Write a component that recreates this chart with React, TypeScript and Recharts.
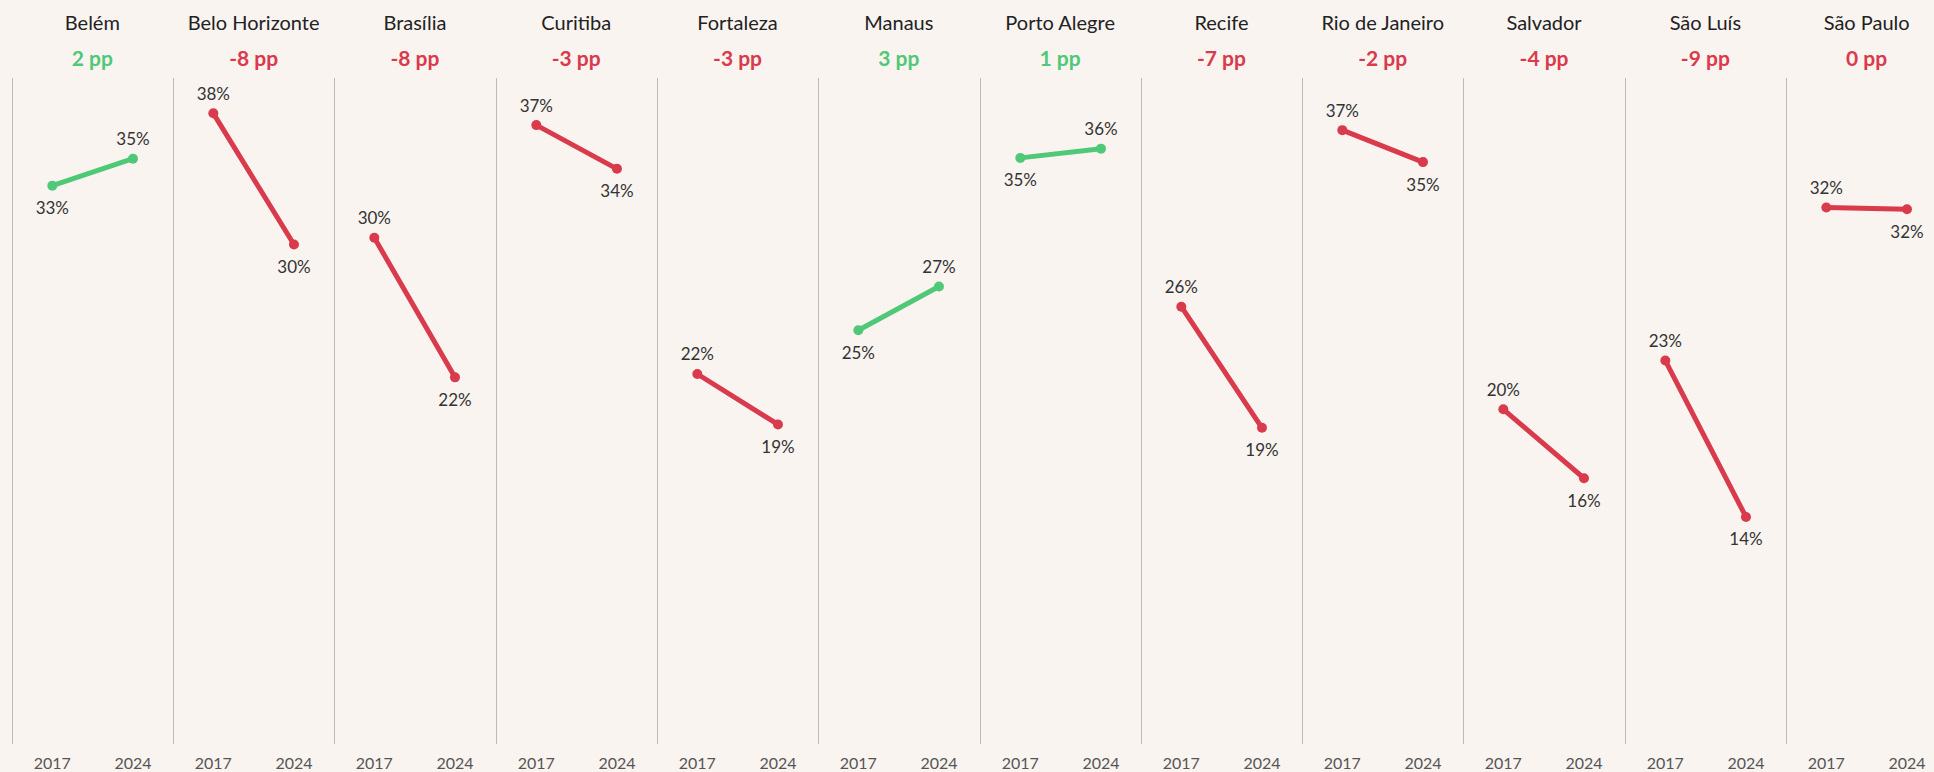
// Slope panels — share per city, 2017 vs 2024, with change in pp
import { LineChart, Line, XAxis, YAxis, LabelList } from "recharts";

const CITIES = [
  "Belém", "Belo Horizonte", "Brasília", "Curitiba", "Fortaleza", "Manaus",
  "Porto Alegre", "Recife", "Rio de Janeiro", "Salvador", "São Luís", "São Paulo",
];
const YEARS = [2017, 2024];
const SHARE_2017 = [33.4, 37.7, 30.3, 37.0, 22.2, 24.8, 35.05, 26.2, 36.7, 20.1, 23.0, 32.1];
const SHARE_2024 = [35.0, 29.9, 22.0, 34.4, 19.2, 27.4, 35.6, 19.0, 34.8, 16.0, 13.7, 32.0];

const GREEN = "#4fc878";
const RED = "#d93a4c";
const BG = "#f9f4f0";
const PANEL_W = 161.3;
const X0 = 11.7;
const PLOT_TOP = 78;
const PLOT_H = 666;

function YearTick({ x, y, payload }: any) {
  return (
    <text x={x} y={y + 19} textAnchor="middle" dominantBaseline="central" fontSize={16} fill="#555">
      {payload.value}
    </text>
  );
}

function Panel({ i }: { i: number }) {
  const a = SHARE_2017[i];
  const b = SHARE_2024[i];
  const data = YEARS.map((year, j) => ({ year, value: j === 0 ? a : b }));
  const diff = b - a;
  const delta = Math.round(diff);
  const color = diff >= 0 ? GREEN : RED;
  const top = Math.max(a, b);

  const renderLabel = (p: any) => {
    const above = p.value === top;
    return (
      <text x={p.x} y={above ? p.y - 20 : p.y + 22} textAnchor="middle" dominantBaseline="central" fontSize={17} fill="#333">
        {Math.round(p.value)}%
      </text>
    );
  };

  return (
    <div style={{ position: "absolute", left: X0 + i * PANEL_W, top: 0, width: PANEL_W, height: 772 }}>
      <div style={{ position: "absolute", top: 9, width: "100%", textAlign: "center", fontSize: 20, lineHeight: "26px", color: "#222" }}>
        {CITIES[i]}
      </div>
      <div style={{ position: "absolute", top: 45, width: "100%", textAlign: "center", fontSize: 21, fontWeight: 700, lineHeight: "26px", color }}>
        {`${delta === 0 ? 0 : delta} pp`}
      </div>
      <div style={{ position: "absolute", left: 0, top: PLOT_TOP, height: PLOT_H, borderLeft: "1.5px solid #bfb9b5" }} />
      <div style={{ position: "absolute", left: 0, top: PLOT_TOP }}>
        <LineChart width={PANEL_W} height={772 - PLOT_TOP} data={data} margin={{ top: 0, right: 0, bottom: 0, left: 0 }}>
          <XAxis dataKey="year" type="number" domain={[2013.5, 2027.5]} ticks={YEARS}
            axisLine={false} tickLine={false} tickSize={0} tickMargin={0} height={772 - PLOT_TOP - PLOT_H} tick={YearTick} />
          <YAxis domain={[0.2, 39.8]} hide />
          <Line dataKey="value" stroke={color} strokeWidth={5} strokeLinecap="round"
            dot={{ r: 5, fill: color, stroke: color, strokeWidth: 0 }} activeDot={false} isAnimationActive={false}>
            <LabelList dataKey="value" content={renderLabel} />
          </Line>
        </LineChart>
      </div>
    </div>
  );
}

export default function App() {
  return (
    <div style={{ position: "absolute", left: 0, top: 0, width: 1934, height: 772, overflow: "hidden", background: BG, fontFamily: "Lato, 'Noto Sans', sans-serif" }}>
      {CITIES.map((_, i) => <Panel key={i} i={i} />)}
    </div>
  );
}
